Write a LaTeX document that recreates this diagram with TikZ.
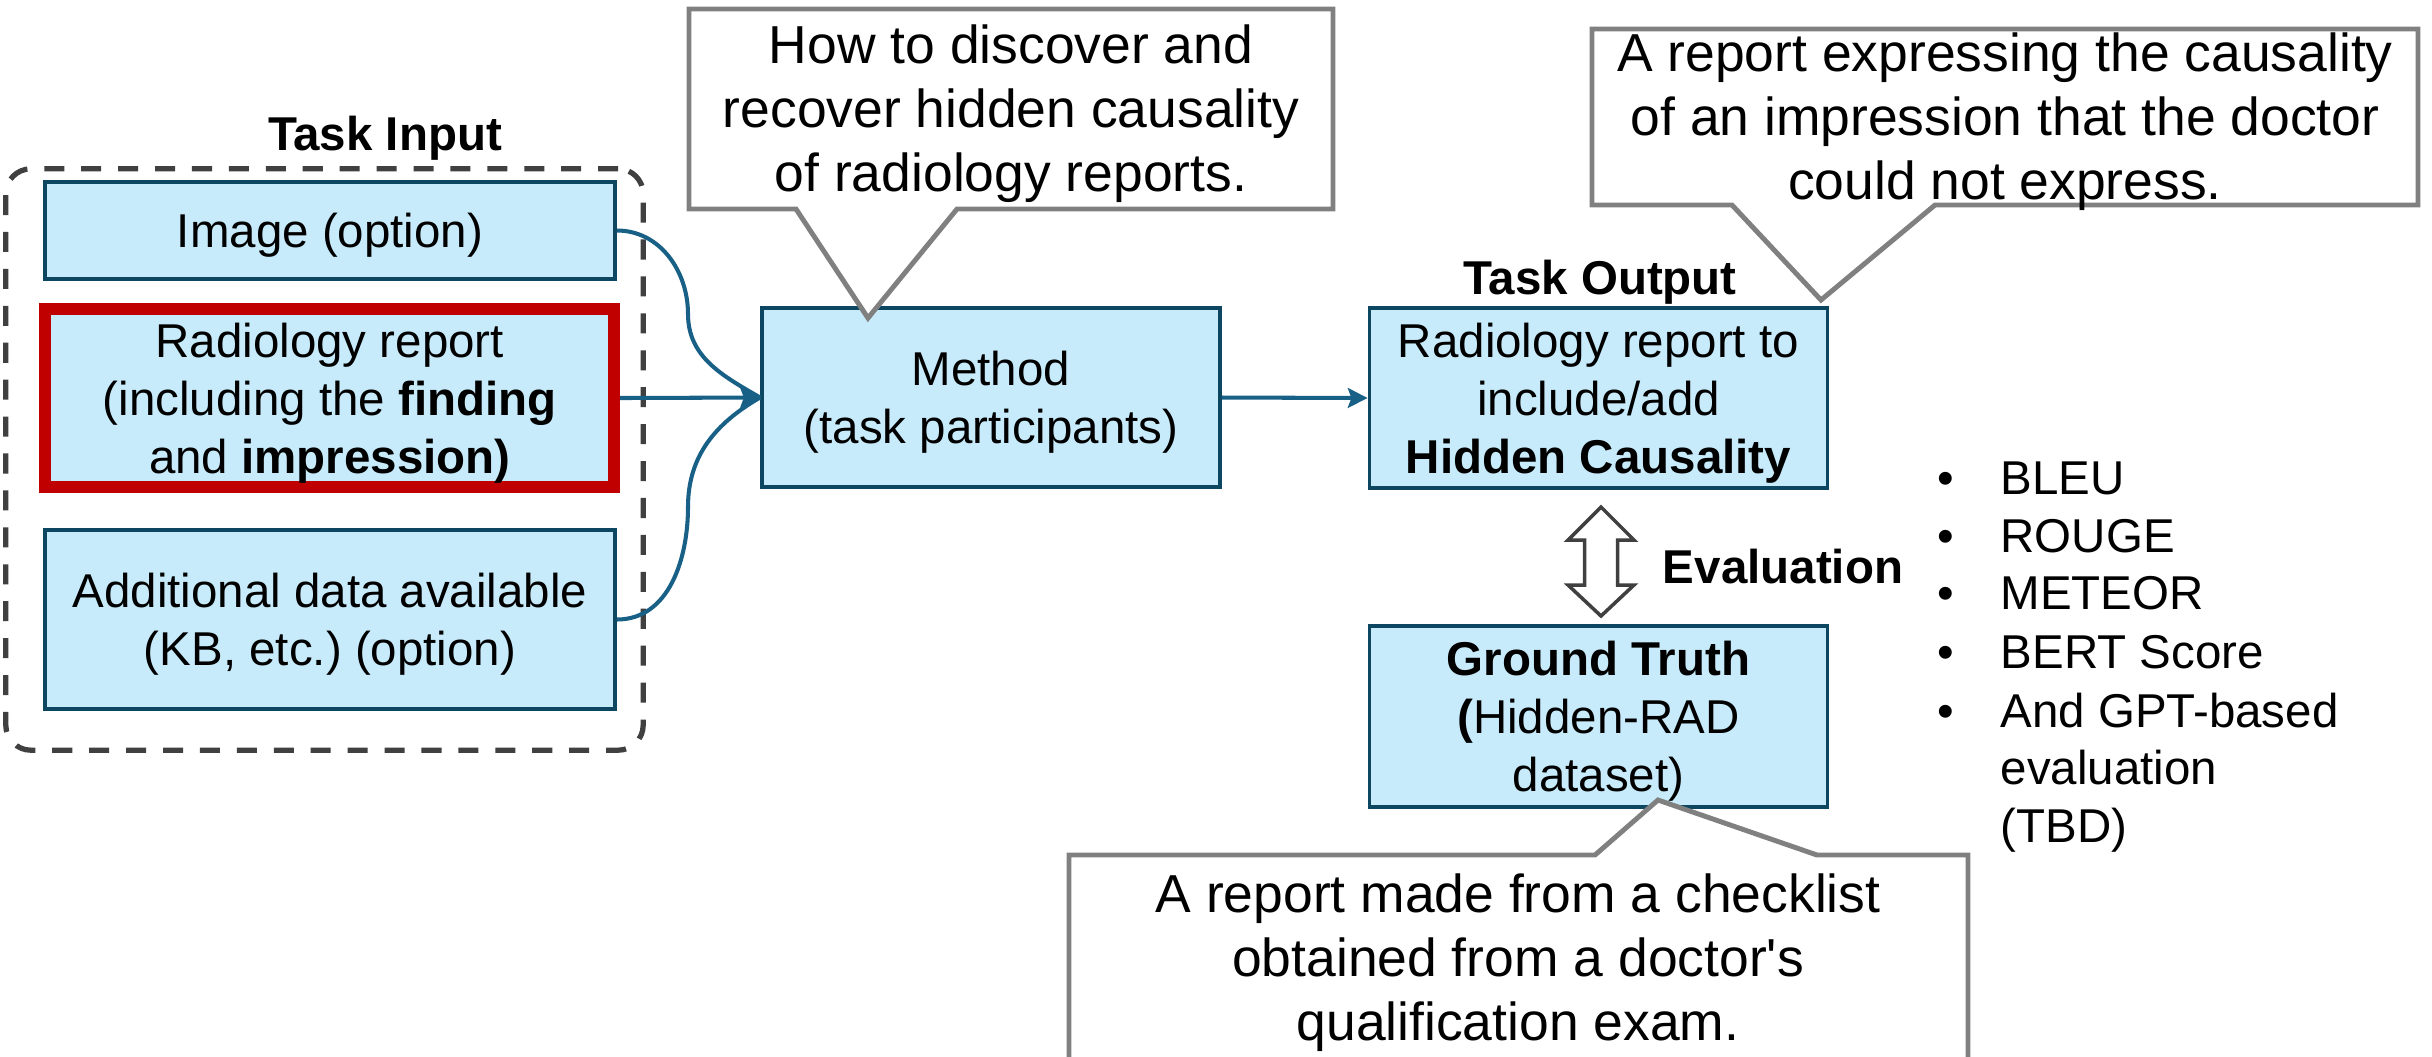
\documentclass[tikz,border=0pt]{standalone}
\usepackage{fontspec}
\setmainfont{Liberation Sans}
\usetikzlibrary{arrows.meta}
\definecolor{boxfill}{RGB}{199,235,250}
\definecolor{boxline}{RGB}{12,70,96}
\definecolor{arrowc}{RGB}{24,96,134}
\definecolor{redc}{RGB}{192,0,0}
\definecolor{callgray}{RGB}{128,128,128}
\definecolor{dashc}{RGB}{64,64,64}
\newcommand\bxfont{\fontsize{13.5}{16.5}\selectfont}
\newcommand\clfont{\fontsize{15.2}{18.2}\selectfont}
\begin{document}
\frenchspacing
\begin{tikzpicture}[x=0.01cm,y=-0.01cm,
  box/.style={draw=boxline, fill=boxfill, line width=1pt, align=center, font=\bxfont, inner sep=0pt, text depth=-1.8pt},
  redbox/.style={box, draw=redc, line width=3.4pt},
  dashbox/.style={draw=dashc, line width=1.5pt, dash pattern=on 5.7pt off 4.8pt, rounded corners=0.25cm, inner sep=0pt},
  conn/.style={draw=arrowc, line width=1.15pt},
  tip/.style={-{Stealth[length=5.6pt,width=5.6pt,inset=1pt]}},
  callout/.style={draw=callgray, fill=white, line width=1.4pt},
  caltext/.style={align=center, font=\clfont, inner sep=0pt},
  lbl/.style={font=\bxfont\bfseries, inner sep=0pt, text height=9.7pt, text depth=0pt},
  itm/.style={font=\bxfont, inner sep=0pt, text height=9.7pt, text depth=0pt, anchor=west},
  dot/.style={font=\bxfont, inner sep=0pt, text height=9.7pt, text depth=0pt},
  evarrow/.style={draw=dashc, fill=white, line width=1pt, line join=miter}
]
\clip (0,0) rectangle (2432,1056);
\fill[white] (0,0) rectangle (2432,1056);

% Task input container
\node[dashbox, minimum width=6.37cm, minimum height=5.81cm] (inbox) at (324.5,459.5) {};
\node[lbl] (tin) at (385,133) {Task Input};

\node[box, minimum width=5.70cm, minimum height=0.97cm, text depth=-0.5pt] (img) at (330,230.5) {Image (option)};
\node[redbox, minimum width=5.685cm, minimum height=1.78cm] (rep) at (329.75,398) {Radiology report\\(including the \textbf{finding}\\and \textbf{impression)}};
\node[box, minimum width=5.70cm, minimum height=1.79cm] (add) at (330,619.5) {Additional data available\\(KB, etc.) (option)};

\node[box, minimum width=4.58cm, minimum height=1.79cm] (met) at (991,397.5) {Method\\(task participants)};
\node[lbl] (tout) at (1600,277) {Task Output};
\node[box, minimum width=4.58cm, minimum height=1.80cm] (out) at (1598.5,398) {Radiology report to\\include/add\\\textbf{Hidden Causality}};
\node[box, minimum width=4.58cm, minimum height=1.81cm] (gt) at (1598.5,716.5) {\textbf{Ground Truth}\\\textbf{(}Hidden-RAD\\dataset)};

% connectors
\coordinate (m1) at (688,314);
\coordinate (m2) at (688,507);
\draw[conn] (img.east) to[out=0,in=90] (m1) to[out=-90,in=150] (met.west);
\draw[conn] (add.east) to[out=0,in=-90] (m2) to[out=90,in=-150] (met.west);
\draw[conn,tip] (rep.east) -- (met.west);
\draw[conn,tip] (met.east) -- (out.west);

% evaluation double arrow
\draw[evarrow, shift={(1601,561.5)}] (0,-54.5) -- (33,-21.5) -- (16.5,-21.5) -- (16.5,23.5) -- (33,23.5) -- (0,54.5) -- (-33,23.5) -- (-16.5,23.5) -- (-16.5,-21.5) -- (-33,-21.5) -- cycle;
\node[lbl] (evl) at (1783,566) {Evaluation};

% metrics list
\node[dot] (d1) at (1946,477) {•};
\node[dot] (d2) at (1946,535) {•};
\node[dot] (d3) at (1946,592) {•};
\node[dot] (d4) at (1946,651) {•};
\node[dot] (d5) at (1946,710) {•};
\node[itm] (i1) at (2000,477) {BLEU};
\node[itm] (i2) at (2000,535) {ROUGE};
\node[itm] (i3) at (2000,592) {METEOR};
\node[itm] (i4) at (2000,651) {BERT Score};
\node[itm] (i5) at (2000,710) {And GPT-based};
\node[itm] (i6) at (2000,767) {evaluation};
\node[itm] (i7) at (2000,825) {(TBD)};

% callouts
\draw[callout] (689,9) -- (1333,9) -- (1333,209) -- (957,209) -- (868,318) -- (796,209) -- (689,209) -- cycle;
\node[caltext] (c1) at (1011,114) {How to discover and\\recover hidden causality\\of radiology reports.};

\draw[callout] (1592,29) -- (2418,29) -- (2418,205) -- (1935,205) -- (1821,300) -- (1732,205) -- (1592,205) -- cycle;
\node[caltext] (c2) at (2005,122) {A report expressing the causality\\of an impression that the doctor\\could not express.};

\draw[callout] (1069,855) -- (1595,855) -- (1658,800) -- (1817,855) -- (1968,855) -- (1968,1075) -- (1069,1075) -- cycle;
\node[caltext] (c3) at (1518,963) {A report made from a checklist\\obtained from a doctor\textquotesingle s\\qualification exam.};
\end{tikzpicture}
\end{document}
